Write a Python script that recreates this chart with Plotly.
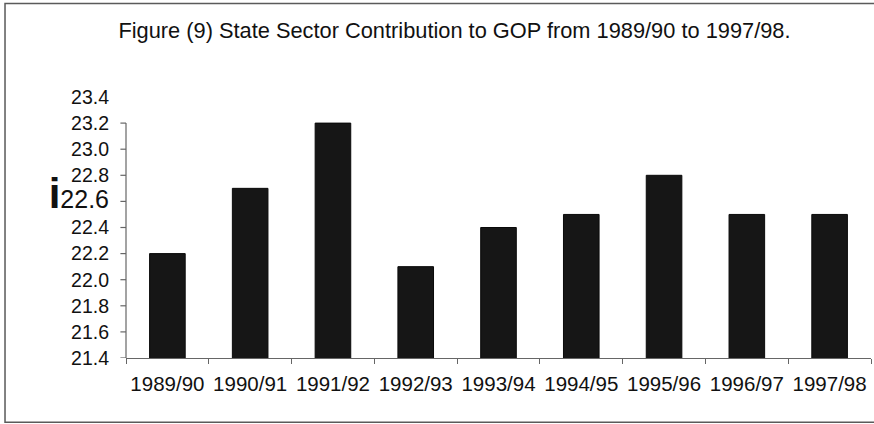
import plotly.graph_objects as go

# State sector contribution to GOP, by fiscal year
years = ["1989/90", "1990/91", "1991/92", "1992/93", "1993/94",
         "1994/95", "1995/96", "1996/97", "1997/98"]
contribution = [22.2, 22.7, 23.2, 22.1, 22.4, 22.5, 22.8, 22.5, 22.5]

# y-axis labels (the scale line itself stops at 23.2)
label_vals = [21.4, 21.6, 21.8, 22.0, 22.2, 22.4, 22.6, 22.8, 23.0, 23.2, 23.4]
label_text = ["21.4", "21.6", "21.8", "22.0", "22.2", "22.4",
              "<span style='font-size:42px;font-weight:bold'>i</span>"
              "<span style='font-size:25px'>22.6</span>",
              "22.8", "23.0", "23.2", "23.4"]
tick_vals = [21.4, 21.6, 21.8, 22.0, 22.2, 22.4, 22.6, 22.8, 23.0, 23.2]

FONT = "Liberation Sans, Arial, sans-serif"
AXIS_COLOR = "#666666"

fig = go.Figure(go.Bar(
    x=years,
    y=contribution,
    marker=dict(color="#161616", line=dict(color="#0a0a0a", width=1)),
    width=0.43,
))

shapes = [
    # y-axis line from the base to the top tick
    dict(type="line", xref="paper", yref="y", x0=0, x1=0,
         y0=tick_vals[0], y1=tick_vals[-1],
         line=dict(color=AXIS_COLOR, width=1.2)),
    # outer frame (right edge runs past the page)
    dict(type="rect", xref="paper", yref="paper",
         x0=-0.1624, x1=1.05, y0=-0.246, y1=1.358,
         line=dict(color="#5a5a5a", width=1.5)),
]
for v in tick_vals:
    shapes.append(dict(type="line", xref="paper", yref="y",
                       x0=-0.0075, x1=0, y0=v, y1=v,
                       line=dict(color=AXIS_COLOR, width=1.2)))

fig.update_layout(
    width=874, height=424,
    margin=dict(l=126, r=3, t=97, b=66),
    paper_bgcolor="white",
    plot_bgcolor="white",
    showlegend=False,
    font=dict(family=FONT, color="#111111", size=19),
    title=dict(
        text="Figure (9) State Sector Contribution to GOP from 1989/90 to 1997/98.",
        x=0.52, xanchor="center", xref="container",
        y=0.929, yanchor="middle", yref="container",
        font=dict(family=FONT, size=21.8, color="#111111"),
    ),
    xaxis=dict(
        type="category",
        showline=True, linecolor=AXIS_COLOR, linewidth=1.2,
        ticks="outside", ticklen=5, tickcolor=AXIS_COLOR, tickwidth=1.2,
        tickson="boundaries",
        showgrid=False, zeroline=False,
        tickangle=0, automargin=False,
        tickfont=dict(family=FONT, size=20.5, color="#111111"),
        ticklabelstandoff=7,
    ),
    yaxis=dict(
        range=[21.4, 23.4],
        tickmode="array", tickvals=label_vals, ticktext=label_text,
        ticks="", showline=False, showgrid=False, zeroline=False,
        automargin=False,
        tickfont=dict(family=FONT, size=19.5, color="#111111"),
        ticklabelstandoff=16,
    ),
    shapes=shapes,
    bargap=0.57,
)

fig.write_html("out.html")
